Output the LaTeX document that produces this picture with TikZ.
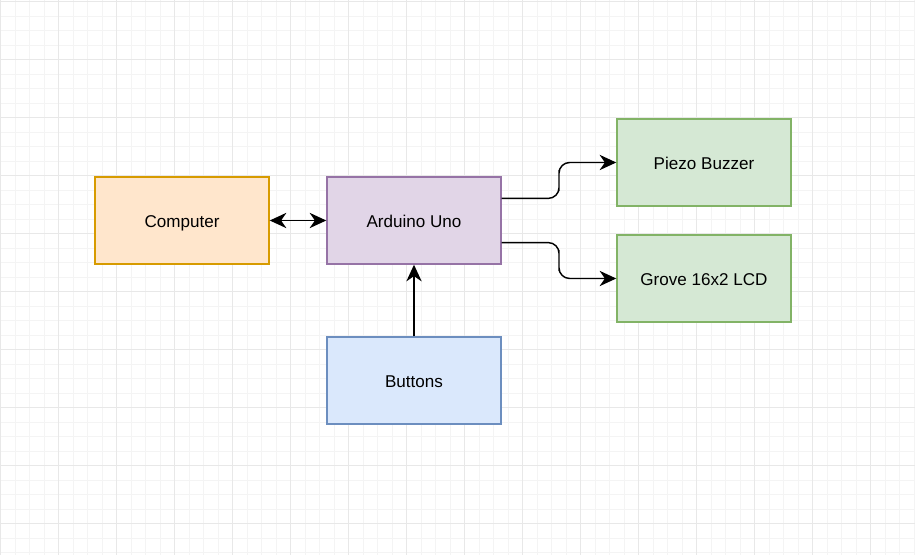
\documentclass[tikz,border=0pt]{standalone}
\usepackage{fontspec}
\setmainfont{Liberation Sans}
\usetikzlibrary{arrows.meta,calc}
\definecolor{gridminor}{HTML}{F4F4F4}
\definecolor{gridmajor}{HTML}{E8E8E8}
\definecolor{orfill}{HTML}{FFE6CC}
\definecolor{orline}{HTML}{D79B00}
\definecolor{pufill}{HTML}{E1D5E7}
\definecolor{puline}{HTML}{9673A6}
\definecolor{grfill}{HTML}{D5E8D4}
\definecolor{grline}{HTML}{82B366}
\definecolor{blfill}{HTML}{DAE8FC}
\definecolor{blline}{HTML}{6C8EBF}
\tikzset{
  blk/.style={rectangle, draw, line width=1.09pt, minimum width=130.5pt, minimum height=65.25pt, inner sep=0pt, text height=10.2pt, text depth=0pt, font=\fontsize{12.8}{15}\selectfont, text=black},
  tipp/.tip={Stealth[length=12.5pt,width=11.5pt,inset=4pt]},
  conn/.style={draw=black, line width=1.09pt, -tipp},
  conn2/.style={draw=black, line width=1.09pt, tipp-tipp},
  minorline/.style={draw=gridminor, line width=0.75pt},
  majorline/.style={draw=gridmajor, line width=0.75pt}
}
\begin{document}
\begin{tikzpicture}[x=0.75pt,y=-0.75pt]
\fill[white] (0,0) rectangle (915,555);
\useasboundingbox (0,0) rectangle (915,555);
\foreach \i in {0,...,63} {\draw[minorline] ({0.5+14.5*\i},0) -- ({0.5+14.5*\i},555);}
\foreach \j in {0,...,38} {\draw[minorline] (0,{2+14.5*\j}) -- (915,{2+14.5*\j});}
\foreach \i in {0,...,15} {\draw[majorline] ({0.5+58*\i},0) -- ({0.5+58*\i},555);}
\foreach \j in {0,...,9} {\draw[majorline] (0,{2+58*\j}) -- (915,{2+58*\j});}
\node[blk, fill=orfill, draw=orline] (comp) at (182,220.5) {Computer};
\node[blk, fill=pufill, draw=puline] (ard) at (414,220.5) {Arduino Uno};
\node[blk, fill=grfill, draw=grline] (piezo) at (704,162.5) {Piezo Buzzer};
\node[blk, fill=grfill, draw=grline] (lcd) at (704,278.5) {Grove 16x2 LCD};
\node[blk, fill=blfill, draw=blline] (btn) at (414,380.5) {Buttons};
\coordinate (a1) at ($(ard.north east)!0.25!(ard.south east)$);
\coordinate (a2) at ($(ard.north east)!0.75!(ard.south east)$);
\draw[conn2] (comp.east) -- (ard.west);
\draw[conn] (btn.north) -- (ard.south);
\draw[conn, rounded corners=8pt] (a1) -| ($(a1)!0.5!(piezo.west)$) |- (piezo.west);
\draw[conn, rounded corners=8pt] (a2) -| ($(a2)!0.5!(lcd.west)$) |- (lcd.west);
\end{tikzpicture}
\end{document}
